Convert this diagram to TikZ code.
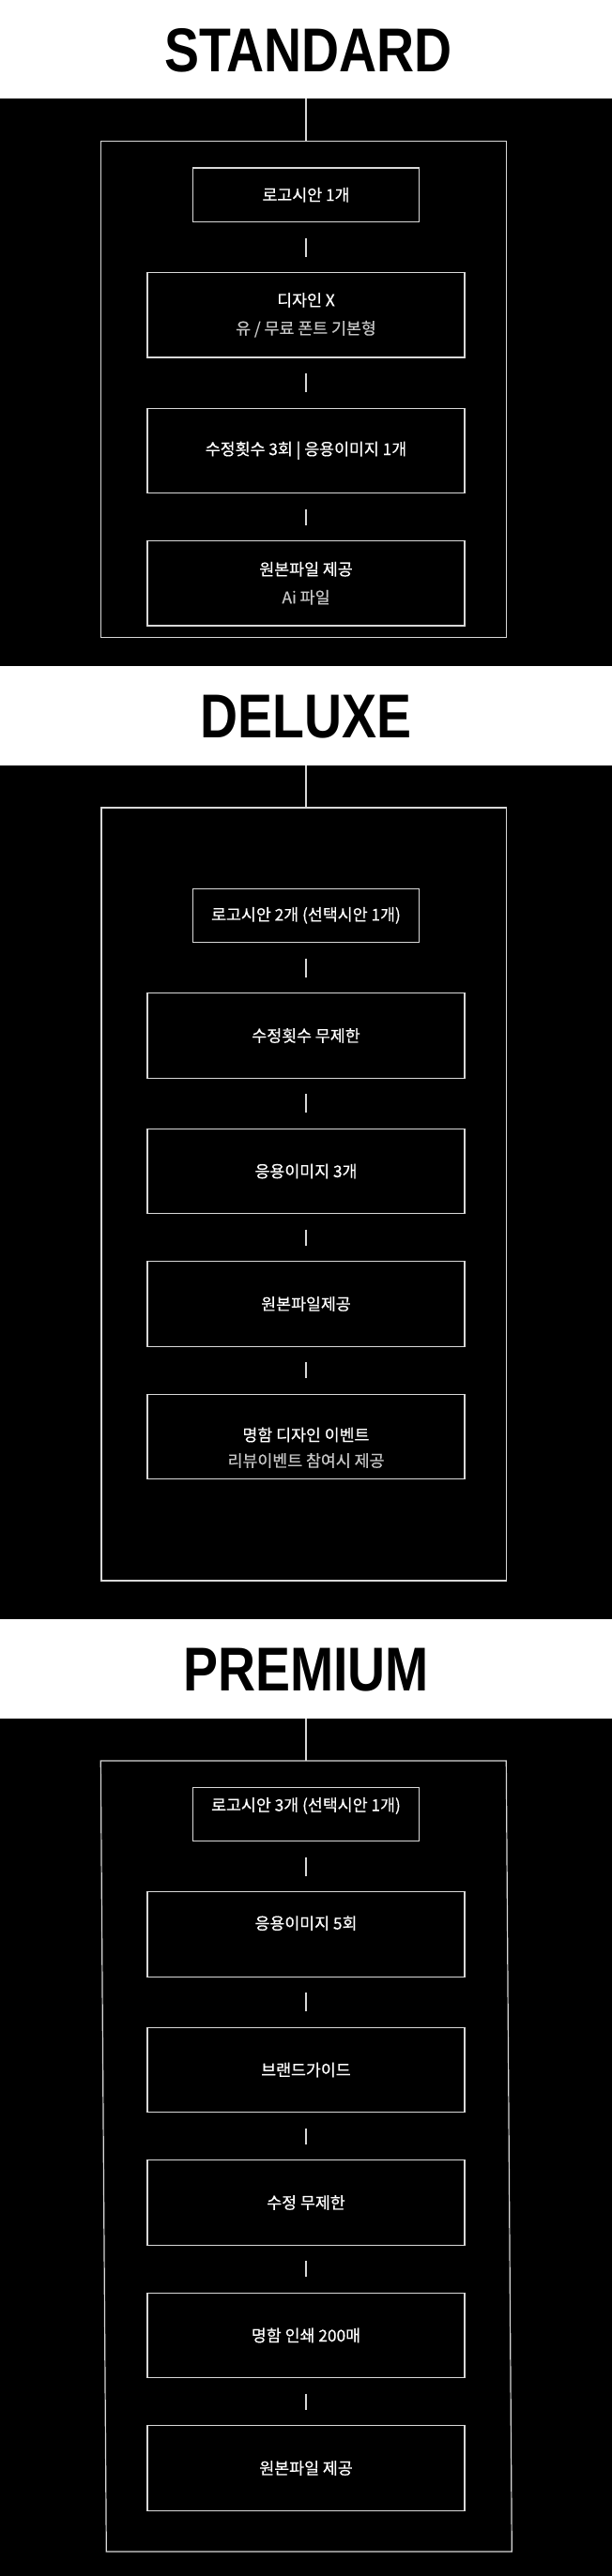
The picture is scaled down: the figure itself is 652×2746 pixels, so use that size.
\documentclass[tikz,border=0pt]{standalone}
\usepackage{fontspec}
\usepackage{tikz}
\usepackage{xcolor}
\usetikzlibrary{positioning}

\newfontfamily\kofont[FakeBold=0.5]{Noto Sans CJK KR}
\newfontfamily\titlefont[FakeStretch=0.84]{Liberation Sans}
\definecolor{linegray}{HTML}{D8D8D8}
\definecolor{subgray}{HTML}{C6C6C6}

\begin{document}
\begin{tikzpicture}[
  x=1pt, y=-1pt,
  band/.style = {rectangle, fill=black, inner sep=0pt, outer sep=0pt, minimum width=652pt, anchor=north},
  planframe/.style = {rectangle, draw=linegray, line width=1.2pt, inner sep=0pt},
  title/.style = {anchor=base, inner sep=0pt, font=\titlefont\bfseries\fontsize{66}{66}\selectfont},
  logo/.style = {rectangle, draw=linegray, line width=1.2pt, minimum width=241pt, minimum height=57.5pt, text=white, align=center, font=\kofont\fontsize{17.3}{30}\selectfont},
  item/.style = {logo, minimum width=338pt, minimum height=90.3pt},
  link/.style = {draw=linegray, line width=1.2pt},
  stub/.style = {link, shorten <=16.5pt, shorten >=16.5pt}
  ]

  \fill[white] (0,0) rectangle (652,2746);
  \useasboundingbox (0,0) rectangle (652,2746);

  % Bandes et titres
  \node[title] (stdtitle) at (328.5,76.7) {STANDARD};
  \node[band, minimum height=604.7pt] (stdband) at (326,105.3) {};
  \node[title] (dlxtitle) at (326.3,786) {DELUXE};
  \node[band, minimum height=910.3pt] (dlxband) at (326,815.7) {};
  \node[title] (prmtitle) at (326.2,1802.3) {PREMIUM};
  \node[band, minimum height=913.7pt] (prmband) at (326,1832.3) {};

  % STANDARD
  \node[planframe, minimum width=432pt, minimum height=528.6pt] (stdframe) at (323.3,415) {};
  \node[logo, anchor=north] (std1) at (326,178.3) {로고시안 1개};
  \node[item, below=53pt of std1] (std2) {디자인 X\\{\color{subgray}유 / 무료 폰트 기본형}};
  \node[item, below=53pt of std2] (std3) {수정횟수 3회 | 응용이미지 1개};
  \node[item, below=50pt of std3] (std4) {원본파일 제공\\{\color{subgray}Ai 파일}};

  \draw[link] (stdband.north) -- (stdband.north |- stdframe.north);
  \draw[stub] (std1) -- (std2);
  \draw[stub] (std2) -- (std3);
  \draw[stub] (std3) -- (std4);

  % DELUXE
  \node[planframe, minimum width=431.3pt, minimum height=824pt] (dlxframe) at (323.7,1273) {};
  \node[logo, anchor=north] (dlx1) at (326,946.5) {로고시안 2개 (선택시안 1개)};
  \node[item, below=53pt of dlx1] (dlx2) {수정횟수 무제한};
  \node[item, below=53pt of dlx2] (dlx3) {응용이미지 3개};
  \node[item, below=50pt of dlx3] (dlx4) {원본파일제공};
  \node[item, below=50pt of dlx4] (dlx5) {\rule{0pt}{38pt}명함 디자인 이벤트\\[-2.6pt]{\color{subgray}리뷰이벤트 참여시 제공}};

  \draw[link] (dlxband.north) -- (dlxband.north |- dlxframe.north);
  \draw[stub] (dlx1) -- (dlx2);
  \draw[stub] (dlx2) -- (dlx3);
  \draw[stub] (dlx3) -- (dlx4);
  \draw[stub] (dlx4) -- (dlx5);

  % PREMIUM
  \coordinate (prmtop) at (326,1877);
  \draw[link] (107.3,1877) -- (539.3,1877) -- (545.3,2720) -- (113.3,2720) -- cycle;
  \node[logo, anchor=north, text depth=21pt] (prm1) at (326,1904.5) {로고시안 3개 (선택시안 1개)};
  \node[item, below=53pt of prm1, text depth=25pt] (prm2) {응용이미지 5회};
  \node[item, below=53pt of prm2] (prm3) {브랜드가이드};
  \node[item, below=50pt of prm3] (prm4) {수정 무제한};
  \node[item, below=50pt of prm4] (prm5) {명함 인쇄 200매};
  \node[item, below=50pt of prm5] (prm6) {원본파일 제공};

  \draw[link] (prmband.north) -- (prmtop);
  \draw[stub] (prm1) -- (prm2);
  \draw[stub] (prm2) -- (prm3);
  \draw[stub] (prm3) -- (prm4);
  \draw[stub] (prm4) -- (prm5);
  \draw[stub] (prm5) -- (prm6);

\end{tikzpicture}
\end{document}
